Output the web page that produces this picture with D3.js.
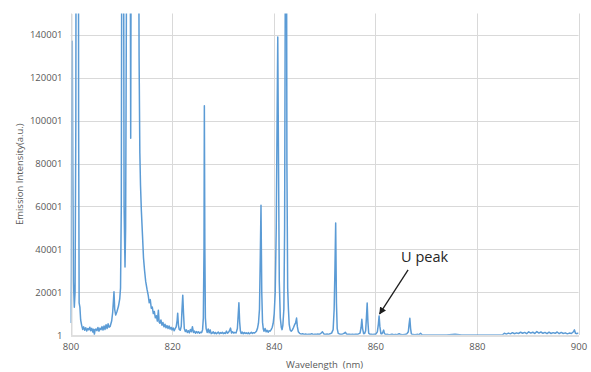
<!DOCTYPE html>
<html>
<head>
<meta charset="utf-8">
<script src="https://cdn.jsdelivr.net/npm/d3@7"></script>
<style>
  html, body { margin: 0; padding: 0; background: #ffffff; }
  svg { display: block; }
  text { font-family: "Open Sans", "Noto Sans", sans-serif; }
</style>
</head>
<body>
<svg id="chart" width="591" height="372"></svg>
<script>
// ---- data ----
const wavelength = [
  800.0, 800.12, 800.25, 800.35, 800.45, 800.58, 800.75, 800.9, 801.05, 801.2, 801.5, 801.6, 801.7, 801.85,
  802.0, 802.2, 802.4, 802.6, 802.8, 803.0, 803.2, 803.4, 803.6, 803.8, 804.0, 804.2, 804.4, 804.55, 804.7,
  804.85, 805.0, 805.2, 805.4, 805.6, 805.8, 806.0, 806.2, 806.4, 806.6, 806.8, 807.0, 807.2, 807.4, 807.6,
  807.8, 808.1, 808.3, 808.45, 808.56, 808.7, 808.9, 809.15, 809.45, 809.7, 809.85, 810.0, 810.1, 810.25,
  810.4, 810.55, 810.73, 810.85, 811.0, 811.15, 811.3, 811.5, 811.7, 811.85, 812.0, 812.15, 812.6, 813.2,
  813.35, 813.5, 813.65, 813.78, 813.95, 814.17, 814.37, 814.57, 814.8, 815.06, 815.3, 815.5, 815.7, 815.9,
  816.1, 816.3, 816.5, 816.7, 816.9, 817.1, 817.3, 817.45, 817.6, 817.8, 818.0, 818.2, 818.4, 818.6, 818.8,
  819.0, 819.2, 819.4, 819.6, 819.8, 820.0, 820.2, 820.4, 820.6, 820.8, 821.0, 821.1, 821.25, 821.4, 821.6,
  821.8, 821.95, 822.1, 822.25, 822.4, 822.6, 822.8, 823.0, 823.2, 823.4, 823.6, 823.8, 824.0, 824.2, 824.4,
  824.6, 824.8, 825.0, 825.2, 825.4, 825.6, 825.8, 826.0, 826.15, 826.28, 826.35, 826.45, 826.55, 826.7,
  826.9, 827.1, 827.3, 827.5, 827.7, 827.9, 828.1, 828.3, 828.5, 828.7, 828.9, 829.1, 829.3, 829.5, 829.7,
  829.9, 830.1, 830.3, 830.5, 830.7, 830.9, 831.1, 831.3, 831.5, 831.7, 831.9, 832.1, 832.3, 832.6, 832.85,
  833.0, 833.15, 833.3, 833.45, 833.6, 833.8, 834.0, 834.2, 834.4, 834.6, 834.8, 835.0, 835.2, 835.4, 835.6,
  835.8, 836.0, 836.2, 836.4, 836.6, 836.8, 837.0, 837.2, 837.35, 837.5, 837.65, 837.8, 837.95, 838.1, 838.3,
  838.5, 838.7, 838.9, 839.1, 839.3, 839.5, 839.7, 839.9, 840.1, 840.3, 840.5, 840.7, 840.8, 840.95, 841.1,
  841.3, 841.5, 841.65, 841.8, 842.0, 842.15, 842.3, 842.45, 842.6, 842.75, 842.9, 843.05, 843.25, 843.45,
  843.7, 843.9, 844.15, 844.3, 844.5, 844.65, 844.85, 845.1, 845.4, 845.7, 846.0, 846.3, 846.6, 846.9, 847.2,
  847.5, 847.8, 848.1, 848.4, 848.7, 849.0, 849.3, 849.6, 849.9, 850.2, 850.5, 850.8, 851.1, 851.4, 851.7,
  851.9, 852.05, 852.2, 852.35, 852.5, 852.7, 853.0, 853.3, 853.6, 853.9, 854.1, 854.3, 854.6, 854.9, 855.2,
  855.5, 855.8, 856.1, 856.4, 856.7, 857.0, 857.2, 857.35, 857.5, 857.7, 857.9, 858.1, 858.25, 858.4, 858.55,
  858.7, 858.9, 859.2, 859.5, 859.8, 860.1, 860.4, 860.6, 860.75, 860.9, 861.1, 861.3, 861.5, 861.65, 861.8,
  862.1, 862.4, 862.7, 863.0, 863.3, 863.6, 864.0, 864.3, 864.7, 865.0, 865.4, 865.8, 866.2, 866.5, 866.65,
  866.8, 866.95, 867.1, 867.4, 867.8, 868.2, 868.6, 868.9, 869.2, 869.6, 870.0, 872.0, 874.0, 875.7, 877.0,
  879.0, 881.0, 883.0, 885.0, 885.4, 885.8, 886.2, 886.6, 887.0, 887.4, 887.8, 888.2, 888.6, 889.0, 889.4,
  889.8, 890.2, 890.6, 891.0, 891.4, 891.8, 892.2, 892.6, 893.0, 893.4, 893.8, 894.2, 894.6, 895.0, 895.4,
  895.8, 896.2, 896.6, 897.0, 897.4, 897.8, 898.2, 898.6, 899.0, 899.2, 899.4, 899.7, 900.0
];
const intensity = [
  5600, 30000, 100000, 137000, 80000, 25000, 13000, 20000, 100000, 400000, 400000, 100000, 15000, 13000,
  7000, 4500, 2600, 3800, 2200, 3400, 1900, 3000, 2400, 3600, 2000, 3100, 1400, 2700, 300,
  2500, 2800, 2000, 3500, 1800, 3200, 2500, 3900, 2300, 4200, 2600, 4800, 3000, 5200, 3600,
  4000, 6500, 10500, 16000, 20200, 12000, 9300, 11000, 13500, 17000, 22000, 60000, 200000, 400000,
  250000, 60000, 31700, 50000, 150000, 400000, 400000, 300000, 250000, 91800, 250000, 400000, 400000, 400000,
  250000, 130000, 85000, 70000, 58000, 46600, 36000, 30300, 25000, 21400, 18500, 15000, 16500, 12500,
  13000, 10000, 11000, 8000, 9000, 6500, 11500, 6000, 5500, 7000, 4600, 5800, 3800, 5000, 3400,
  4400, 3000, 4200, 2800, 3600, 2400, 3300, 2000, 3000, 3800, 7000, 10200, 4500, 2600, 2200,
  4000, 12000, 18600, 10000, 3000, 1600, 2400, 1200, 2000, 1000, 2600, 1500, 3900, 1200, 1800,
  800, 1600, 1000, 1500, 800, 1300, 1100, 2500, 8000, 40000, 107000, 40000, 8000, 3000,
  1200, 2800, 1000, 2400, 600, 900, 1500, 600, 1200, 500, 1000, 1400, 500, 1100, 800,
  1300, 600, 1000, 700, 1800, 800, 1200, 2000, 3200, 900, 1500, 900, 1200, 1000, 3000,
  9000, 15000, 6000, 1800, 700, 1400, 500, 1200, 700, 1000, 600, 1100, 500, 900, 1300,
  700, 1100, 900, 1300, 1800, 3000, 5500, 12000, 35000, 60500, 20000, 6000, 2800, 1800, 3000,
  1500, 2200, 1300, 2000, 1800, 2500, 3500, 5500, 10000, 20000, 50000, 110000, 139000, 80000, 25000,
  8000, 3500, 2500, 4500, 12000, 50000, 180000, 300000, 80000, 22000, 12000, 5000, 2300, 1800,
  2500, 3500, 5000, 5500, 7900, 4000, 1500, 800, 400, 600, 300, 500, 200, 400, 300,
  600, 200, 400, 300, 500, 300, 800, 1500, 400, 300, 500, 300, 600, 900, 2500,
  12000, 30000, 52300, 15000, 3000, 800, 400, 300, 500, 800, 1300, 500, 300, 400, 200,
  300, 200, 400, 300, 500, 900, 3500, 7300, 3000, 600, 700, 2000, 8000, 14900, 6000,
  800, 400, 300, 200, 300, 400, 1500, 5000, 8900, 4000, 600, 500, 1500, 2300, 600,
  200, 300, 100, 200, 400, 100, 300, 150, 600, 200, 100, 300, 500, 1500, 5000,
  7800, 3000, 500, 200, 100, 300, 150, 800, 100, 0, 0, 0, 0, 400, 0,
  0, 0, 0, 0, 800, 400, 900, 500, 1100, 600, 1000, 700, 1300, 800, 1200,
  600, 1500, 900, 1300, 700, 1600, 900, 1400, 800, 1200, 600, 1300, 700, 1100, 800,
  1400, 600, 1200, 700, 1000, 500, 900, 700, 1500, 2400, 800, 600, 1000
];
const xTicks = [800, 820, 840, 860, 880, 900];
const yTicks = [1, 20001, 40001, 60001, 80001, 100001, 120001, 140001];
const xDomain = [800, 900];
const yDomain = [1, 150001];
const xTitle = "Wavelength  (nm)";
const yTitle = "Emission Intensity(a.u.)";
const annotation = { label: "U peak", x: 860.75, y: 8900 };

if (wavelength.length !== intensity.length) {
  throw new Error("length mismatch " + wavelength.length + " vs " + intensity.length);
}

// ---- chart ----
const svg = d3.select("#chart");
const pL = 70.5, pR = 578.5, pT = 13.5, pB = 335;
const x = d3.scaleLinear().domain(xDomain).range([pL, pR]);
const y = d3.scaleLinear().domain(yDomain).range([pB, pT]);

const data = wavelength.map((w, i) => ({ w, v: intensity[i] }));

// gridlines
svg.append("g")
  .selectAll("line")
  .data(yTicks.slice(1))
  .join("line")
  .attr("x1", pL).attr("x2", pR)
  .attr("y1", d => Math.round(y(d)) + 0.5).attr("y2", d => Math.round(y(d)) + 0.5)
  .attr("stroke", "#d9d9d9").attr("stroke-width", 1);
svg.append("g")
  .selectAll("line")
  .data(xTicks)
  .join("line")
  .attr("x1", d => Math.round(x(d)) + 0.5).attr("x2", d => Math.round(x(d)) + 0.5)
  .attr("y1", pT).attr("y2", pB)
  .attr("stroke", "#d9d9d9").attr("stroke-width", 1);

// clip
const defs = svg.append("defs");
defs.append("clipPath").attr("id", "plotclip")
  .append("rect").attr("x", pL).attr("y", pT).attr("width", pR - pL).attr("height", pB - pT - 0.2);

const line = d3.line().x(d => x(d.w)).y(d => y(d.v));
svg.append("path")
  .datum(data)
  .attr("clip-path", "url(#plotclip)")
  .attr("d", line)
  .attr("fill", "none")
  .attr("stroke", "#5b9bd5")
  .attr("stroke-width", 1.5)
  .attr("stroke-linejoin", "round");

// axes (drawn over the series)
const xAxis = d3.axisBottom(x).tickValues(xTicks).tickSize(0).tickPadding(8).tickFormat(d3.format("d"));
const gx = svg.append("g").attr("transform", `translate(0,${Math.round(pB) + 0.5})`).call(xAxis);
gx.select(".domain").attr("stroke", "#bfbfbf");
gx.selectAll("text").attr("fill", "#595959").attr("font-size", "9.5px");

const yAxis = d3.axisLeft(y).tickValues(yTicks).tickSize(0).tickPadding(9).tickFormat(d3.format("d"));
const gy = svg.append("g").attr("transform", `translate(${Math.round(pL) + 0.5},0)`).call(yAxis);
gy.select(".domain").attr("stroke", "#d9d9d9");
gy.selectAll("text").attr("fill", "#595959").attr("font-size", "9.5px");

// axis titles
svg.append("text")
  .attr("x", (pL + pR) / 2).attr("y", 368)
  .attr("text-anchor", "middle")
  .attr("fill", "#595959").attr("font-size", "9.5px")
  .style("white-space", "pre")
  .text(xTitle);
svg.append("text")
  .attr("transform", `translate(23,${(pT + pB) / 2}) rotate(-90)`)
  .attr("text-anchor", "middle")
  .attr("fill", "#595959").attr("font-size", "9.5px")
  .text(yTitle);

// annotation
const tipX = x(annotation.x) + 0.5, tipY = y(annotation.y) - 2;
defs.append("marker")
  .attr("id", "arrowhead").attr("viewBox", "0 0 10 10")
  .attr("refX", 9).attr("refY", 5)
  .attr("markerWidth", 5.5).attr("markerHeight", 5.5)
  .attr("orient", "auto")
  .append("path").attr("d", "M0,0 L10,5 L0,10 z").attr("fill", "#1e1e1e");
svg.append("line")
  .attr("x1", tipX + 28.5).attr("y1", tipY - 44)
  .attr("x2", tipX).attr("y2", tipY)
  .attr("stroke", "#1e1e1e").attr("stroke-width", 1.3)
  .attr("marker-end", "url(#arrowhead)");
svg.append("text")
  .attr("x", tipX + 21.5).attr("y", tipY - 52)
  .attr("fill", "#262626").attr("font-size", "14.5px")
  .text(annotation.label);
</script>
</body>
</html>
